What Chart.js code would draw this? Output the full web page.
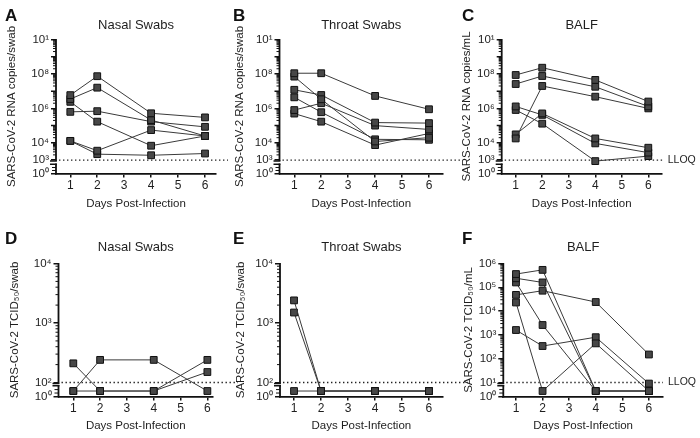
<!DOCTYPE html>
<html><head><meta charset="utf-8">
<script src="https://cdn.jsdelivr.net/npm/chart.js@4.4.1/dist/chart.umd.min.js"></script>
<style>
html,body{margin:0;padding:0;background:#fff;}
#wrap{position:relative;width:700px;height:438px;overflow:hidden;}
canvas{position:absolute;left:0;top:0;}
</style></head><body><div id="wrap">
<canvas id="cA" width="700" height="438"></canvas>
<canvas id="cB" width="700" height="438"></canvas>
<canvas id="cC" width="700" height="438"></canvas>
<canvas id="cD" width="700" height="438"></canvas>
<canvas id="cE" width="700" height="438"></canvas>
<canvas id="cF" width="700" height="438"></canvas>
</div>
<script>
// ---------------- DATA ----------------
const days = [1, 2, 4, 6];
const xTicks = [1, 2, 3, 4, 5, 6];
const xTickLabels = ['1', '2', '3', '4', '5', '6'];

// A: Nasal swabs, RNA copies/swab (one row per animal)
const nasalRNA = [
  [5.9e6, 7.4e7, 5.2e5, 3.0e5],
  [3.5e6, 1.6e7, 2.1e5, 2.5e4],
  [2.4e6, 1.7e5, 6.8e3, 2.5e4],
  [6.3e5, 6.9e5, 1.7e5, 8.5e4],
  [1.3e4, 3.5e3, 5.5e4, 2.5e4],
  [1.3e4, 2.2e3, 1.9e3, 2.4e3]
];
// B: Throat swabs, RNA copies/swab
const throatRNA = [
  [1.1e8, 1.1e8, 5.3e6, 8.9e5],
  [7.0e7, 3.4e6, 1.2e4, 2.0e4],
  [1.2e7, 6.0e6, 1.5e5, 1.4e5],
  [4.4e6, 6.0e5, 1.6e4, 1.5e4],
  [8.0e5, 2.0e6, 1.0e5, 6.0e4],
  [5.0e5, 1.7e5, 7.4e3, 3.5e4]
];
// C: BALF, RNA copies/mL
const balfRNA = [
  [8.7e7, 2.3e8, 4.5e7, 2.5e6],
  [2.6e7, 7.6e7, 1.8e7, 1.3e6],
  [1.8e4, 2.0e7, 4.8e6, 1.0e6],
  [3.1e4, 5.1e5, 1.8e4, 5.2e3],
  [1.3e6, 4.2e5, 9.3e3, 2.7e3],
  [8.1e5, 1.3e5, 870, 1.7e3]
];
// D: Nasal swabs, TCID50/swab (3 = plotted below LLOQ)
const nasalTCID = [
  [210, 3, 3, 240],
  [3, 240, 240, 3],
  [3, 3, 3, 150]
];
// E: Throat swabs, TCID50/swab
const throatTCID = [
  [2400, 3, 3, 3],
  [1500, 3, 3, 3],
  [3, 3, 3, 3]
];
// F: BALF, TCID50/mL
const balfTCID = [
  [3.6e5, 5.4e5, 3, 3],
  [2.4e5, 1.6e5, 3, 3],
  [1.6e5, 2.6e3, 3, 3],
  [4.8e4, 7.2e4, 2.4e4, 150],
  [2.3e4, 3, 440, 3],
  [1.6e3, 340, 800, 9]
];

// y tick values and labels
const rnaTickValues = [1, 1e3, 1e4, 1e6, 1e8, 1e10];
const rnaTickLabels = ['10⁰', '10³', '10⁴', '10⁶', '10⁸', '10¹'];
const swabTcidTickValues = [1, 1e2, 1e3, 1e4];
const swabTcidTickLabels = ['10⁰', '10²', '10³', '10⁴'];
const balfTcidTickValues = [1, 10, 1e2, 1e3, 1e4, 1e5, 1e6];
const balfTcidTickLabels = ['10⁰', '10¹', '10²', '10³', '10⁴', '10⁵', '10⁶'];

// LLOQ levels
const lloqRNA = 1e3, lloqSwabTCID = 1e2, lloqBalfTCID = 10;

// ---------------- SCALE: log axis with a break ----------------
class BrokenLogScale extends Chart.LinearScale {
  toU(v) {
    const b = this.options.brk;
    const lv = Math.log10(v);
    if (lv >= b.at - b.gap) return lv;
    const lo = b.at - b.gap - b.low;
    return lo + Math.max(0, Math.min(1, lv / b.lowTop)) * b.low;
  }
  getPixelForValue(v) {
    if (v === null || v === undefined || isNaN(v)) return NaN;
    return super.getPixelForValue(this.toU(v));
  }
}
BrokenLogScale.id = 'brokenLog';
BrokenLogScale.defaults = Chart.LinearScale.defaults;
Chart.register(BrokenLogScale);

Chart.defaults.font.family = '"Liberation Sans", Arial, Helvetica, sans-serif';
Chart.defaults.color = '#1e1e1e';

const decor = {
  id: 'decor',
  beforeDatasetsDraw(chart, args, o) {
    const {ctx, chartArea: a} = chart;
    const y = chart.scales.y;
    const py = y.getPixelForValue(o.lloq);
    ctx.save();
    ctx.strokeStyle = '#222'; ctx.lineWidth = 1.3; ctx.setLineDash([1.4, 2.6]);
    ctx.beginPath(); ctx.moveTo(a.left + 3, py); ctx.lineTo(a.right + o.dotExt, py); ctx.stroke();
    ctx.restore();
  },
  afterDraw(chart, args, o) {
    const {ctx, chartArea: a} = chart;
    const y = chart.scales.y;
    const b = y.options.brk;
    const X = a.left;
    const pU = u => y.getPixelForDecimal((u - y.min) / (y.max - y.min));
    const pBrk = pU(b.at), pLowTop = pU(b.at - b.gap);
    const lo = b.at - b.gap - b.low;
    ctx.save();
    ctx.strokeStyle = '#111';
    ctx.lineWidth = 1.8;
    ctx.beginPath();
    ctx.moveTo(X, a.top - 0.5); ctx.lineTo(X, pBrk + 1);
    ctx.moveTo(X, pLowTop); ctx.lineTo(X, a.bottom + 0.9);
    ctx.stroke();
    ctx.lineWidth = 1.6;
    ctx.beginPath();
    ctx.moveTo(X - 6, pBrk + 1); ctx.lineTo(X + 0.9, pBrk + 1);
    ctx.moveTo(X - 6, pLowTop + 0.8); ctx.lineTo(X + 0.9, pLowTop + 0.8);
    ctx.stroke();
    // minor log ticks
    ctx.lineWidth = 1;
    ctx.beginPath();
    for (let n = b.at; n < b.top; n++) {
      for (let k = 2; k <= 9; k++) {
        const py = pU(n + Math.log10(k));
        ctx.moveTo(X - 3, py); ctx.lineTo(X, py);
      }
    }
    for (const k of [2, 4]) {
      const py = pU(lo + Math.log10(k) / b.lowTop * b.low);
      ctx.moveTo(X - 4, py); ctx.lineTo(X, py);
    }
    ctx.stroke();
    // unlabeled decade ticks
    ctx.lineWidth = 1.5;
    ctx.beginPath();
    for (let n = b.at + 1; n < b.top; n++) {
      const has = y.ticks.some(t => Math.abs(Math.log10(t.value) - n) < 1e-6);
      if (!has) { const py = pU(n); ctx.moveTo(X - 5, py); ctx.lineTo(X, py); }
    }
    ctx.stroke();
    // panel letter
    ctx.fillStyle = '#111';
    ctx.textBaseline = 'middle'; ctx.textAlign = 'left';
    ctx.font = 'bold 17px "Liberation Sans", Arial, sans-serif';
    ctx.fillText(o.letter, o.letterX, o.letterY);
    if (o.lloqLabel) {
      ctx.font = '10.5px "Liberation Sans", Arial, sans-serif';
      ctx.fillStyle = '#1e1e1e';
      ctx.fillText(o.lloqLabel, a.right + o.labelDx, y.getPixelForValue(o.lloq));
    }
    ctx.restore();
  }
};

// ---------------- LAYOUT ----------------
const brkRNA = {at: 3, top: 10, gap: 0.2, low: 0.58, lowTop: 1};
const brkSwab = {at: 2, top: 4, gap: 0.042, low: 0.193, lowTop: 1};
const brkBalf = {at: 1, top: 6, gap: 0.105, low: 0.484, lowTop: 1};

function panel(canvasId, L, series, title, yTitle, tickVals, tickLabels, brk, lloq, extra) {
  const labelFor = v => {
    const i = tickVals.findIndex(t => Math.abs(Math.log10(t) - Math.log10(v)) < 1e-6);
    return i >= 0 ? tickLabels[i] : '';
  };
  const datasets = series.map(s => ({
    data: days.map((d, i) => ({x: d, y: s[i]})),
    borderColor: '#3a3a3a', borderWidth: 1, tension: 0, fill: false, clip: false,
    pointStyle: 'rect', pointRadius: 4.8, pointBackgroundColor: '#474747',
    pointBorderColor: '#111', pointBorderWidth: 1
  }));
  new Chart(document.getElementById(canvasId), {
    type: 'line',
    data: {datasets},
    plugins: [decor],
    options: {
      responsive: false, animation: false, devicePixelRatio: 1,
      layout: {padding: {left: L.left, right: 700 - L.right, top: L.titleY - 7.8, bottom: 438 - L.panelBottom}},
      plugins: {
        legend: {display: false}, tooltip: {enabled: false},
        title: {display: true, text: title, fullSize: false, color: '#1e1e1e',
          font: {size: 13, weight: 'normal'},
          padding: {top: 0, bottom: L.top - (L.titleY - 7.8) - 15.6}},
        decor: Object.assign({lloq}, extra)
      },
      scales: {
        x: {
          type: 'linear', min: L.xmin, max: L.xmax, bounds: 'data',
          afterBuildTicks: s => { s.ticks = xTicks.map(v => ({value: v})); },
          afterFit: s => { s.height = L.panelBottom - L.bottom; },
          ticks: {autoSkip: false, padding: 1, font: {size: 12}, color: '#1e1e1e',
            callback: v => xTickLabels[xTicks.indexOf(v)]},
          grid: {display: true, drawOnChartArea: false, drawTicks: true, tickLength: 4, color: '#111', lineWidth: 1.5},
          border: {display: true, color: '#111', width: 1.8},
          title: {display: true, text: 'Days Post-Infection', color: '#1e1e1e', font: {size: 11.5},
            padding: {top: 0, bottom: L.panelBottom - L.xTitleY - 6.9}}
        },
        y: {
          type: 'brokenLog', bounds: 'data',
          min: brk.at - brk.gap - brk.low, max: brk.top, brk: brk,
          afterBuildTicks: s => { s.ticks = tickVals.map(v => ({value: v})); },
          afterFit: s => { s.width = L.axisX - L.left; },
          ticks: {autoSkip: false, padding: 2, font: {size: 11.5}, color: '#1e1e1e', callback: v => labelFor(v)},
          grid: {display: true, drawOnChartArea: false, drawTicks: true, tickLength: 5, color: '#111', lineWidth: 1.5},
          border: {display: false},
          title: {display: true, text: yTitle, color: '#1e1e1e', font: {size: 11.5},
            padding: {top: L.yTitleX - L.left - 6.9, bottom: 0}}
        }
      }
    }
  });
}

const topRow = {top: 39.5, bottom: 173.5, panelBottom: 220, titleY: 25, xTitleY: 203.5};
const botRow = {top: 263.5, bottom: 396.5, panelBottom: 438, titleY: 247.5, xTitleY: 426};

panel('cA', Object.assign({left: 0, axisX: 56, right: 216, yTitleX: 12, xmin: 0.469, xmax: 6.408}, topRow),
  nasalRNA, 'Nasal Swabs', 'SARS-CoV-2 RNA copies/swab', rnaTickValues, rnaTickLabels, brkRNA, lloqRNA,
  {letter: 'A', letterX: 5, letterY: 16, dotExt: 12});
panel('cB', Object.assign({left: 230, axisX: 279.5, right: 443, yTitleX: 240, xmin: 0.451, xmax: 6.52}, topRow),
  throatRNA, 'Throat Swabs', 'SARS-CoV-2 RNA copies/swab', rnaTickValues, rnaTickLabels, brkRNA, lloqRNA,
  {letter: 'B', letterX: 233, letterY: 16, dotExt: 17});
panel('cC', Object.assign({left: 460, axisX: 501.7, right: 661.7, yTitleX: 467, xmin: 0.472, xmax: 6.505}, topRow),
  balfRNA, 'BALF', 'SARS-CoV-2 RNA copies/mL', rnaTickValues, rnaTickLabels, brkRNA, lloqRNA,
  {letter: 'C', letterX: 462, letterY: 16, dotExt: 3, lloqLabel: 'LLOQ', labelDx: 6});
panel('cD', Object.assign({left: 0, axisX: 58.5, right: 213, yTitleX: 15, xmin: 0.448, xmax: 6.21}, botRow),
  nasalTCID, 'Nasal Swabs', 'SARS-CoV-2 TCID₅₀/swab', swabTcidTickValues, swabTcidTickLabels, brkSwab, lloqSwabTCID,
  {letter: 'D', letterX: 5, letterY: 239, dotExt: 25});
panel('cE', Object.assign({left: 230, axisX: 280, right: 442.7, yTitleX: 241, xmin: 0.48, xmax: 6.51}, botRow),
  throatTCID, 'Throat Swabs', 'SARS-CoV-2 TCID₅₀/swab', swabTcidTickValues, swabTcidTickLabels, brkSwab, lloqSwabTCID,
  {letter: 'E', letterX: 233, letterY: 239, dotExt: 25});
panel('cF', Object.assign({left: 460, axisX: 503.3, right: 663, yTitleX: 469, xmin: 0.523, xmax: 6.53}, botRow),
  balfTCID, 'BALF', 'SARS-CoV-2 TCID₅₀/mL', balfTcidTickValues, balfTcidTickLabels, brkBalf, lloqBalfTCID,
  {letter: 'F', letterX: 462, letterY: 239, dotExt: 0, lloqLabel: 'LLOQ', labelDx: 5});
</script>
</body></html>
